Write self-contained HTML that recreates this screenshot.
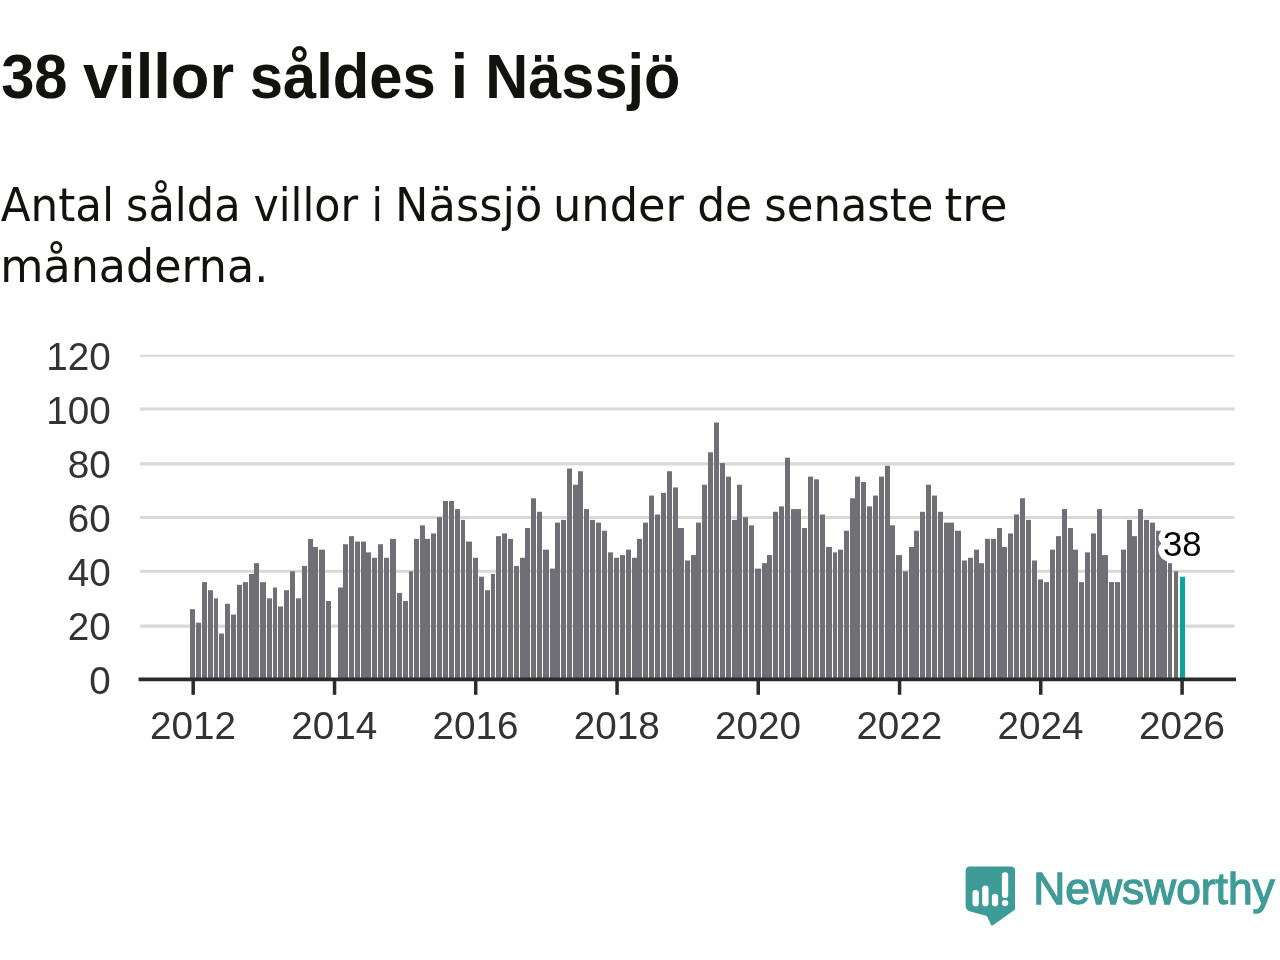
<!DOCTYPE html>
<html lang="sv"><head><meta charset="utf-8"><title>38 villor såldes i Nässjö</title>
<style>
html,body{margin:0;padding:0;background:#fff;}
body{width:1280px;height:960px;overflow:hidden;position:relative;}
main{position:absolute;left:0;top:0;width:1280px;height:960px;overflow:hidden;background:#fff;}
.blk{position:absolute;left:0;width:1280px;margin:0;padding:0;border:0;font-size:0;line-height:0;overflow:hidden;}
svg{display:block;overflow:hidden;}
.t{font-family:"Liberation Sans","DejaVu Sans",sans-serif;}
.d{font-family:"DejaVu Sans Condensed","DejaVu Sans","Liberation Sans",sans-serif;}
</style></head><body>
<main>
<h1 class="blk title" style="top:0px;height:130px">
<svg width="1280" height="130" viewBox="0 0 1280 130">
<text class="t" y="97.7" font-size="62.3" font-weight="700" fill="#12120e" xml:space="preserve"><tspan x="1.13" textLength="66.40" lengthAdjust="spacingAndGlyphs">38</tspan> <tspan x="82.95" textLength="151.14" lengthAdjust="spacingAndGlyphs">villor</tspan> <tspan x="249.77" textLength="185.94" lengthAdjust="spacingAndGlyphs">såldes</tspan> <tspan x="450.78" textLength="17.31" lengthAdjust="spacingAndGlyphs">i</tspan> <tspan x="485.24" textLength="195.12" lengthAdjust="spacingAndGlyphs">Nässjö</tspan></text>
</svg>
</h1>
<p class="blk subtitle" style="top:150px;height:160px">
<svg width="1280" height="160" viewBox="0 150 1280 160">
<text class="d" y="221.2" font-size="46" fill="#12120e" xml:space="preserve"><tspan x="0.78" textLength="113.40" lengthAdjust="spacingAndGlyphs">Antal</tspan> <tspan x="126.09" textLength="114.42" lengthAdjust="spacingAndGlyphs">sålda</tspan> <tspan x="253.45" textLength="104.65" lengthAdjust="spacingAndGlyphs">villor</tspan> <tspan x="371.45" textLength="11.50" lengthAdjust="spacingAndGlyphs">i</tspan> <tspan x="395.11" textLength="147.22" lengthAdjust="spacingAndGlyphs">Nässjö</tspan> <tspan x="552.98" textLength="130.97" lengthAdjust="spacingAndGlyphs">under</tspan> <tspan x="697.16" textLength="54.99" lengthAdjust="spacingAndGlyphs">de</tspan> <tspan x="764.34" textLength="169.00" lengthAdjust="spacingAndGlyphs">senaste</tspan> <tspan x="944.60" textLength="62.87" lengthAdjust="spacingAndGlyphs">tre</tspan></text>
<text class="d" y="281.9" font-size="46" fill="#12120e" xml:space="preserve"><tspan x="0.39" textLength="267.84" lengthAdjust="spacingAndGlyphs">månaderna.</tspan></text>
</svg>
</p>
<figure class="blk chart" style="top:320px;height:460px">
<svg width="1280" height="460" viewBox="0 320 1280 460">
<g stroke="#d9d9d9" stroke-width="3.1" fill="none">
<line x1="140.0" x2="1234.5" y1="626.15" y2="626.15"/>
<line x1="140.0" x2="1234.5" y1="571.20" y2="571.20"/>
<line x1="140.0" x2="1234.5" y1="517.50" y2="517.50"/>
<line x1="140.0" x2="1234.5" y1="463.90" y2="463.90"/>
<line x1="140.0" x2="1234.5" y1="409.05" y2="409.05"/>
<line x1="140.0" x2="1234.5" y1="355.80" y2="355.80" stroke-width="1.9"/>
</g>
<g class="t" font-size="39.4" fill="#333333" text-anchor="end">
<text x="110.8" y="694" textLength="21.50" lengthAdjust="spacingAndGlyphs">0</text>
<text x="110.8" y="640" textLength="43.00" lengthAdjust="spacingAndGlyphs">20</text>
<text x="110.8" y="586" textLength="43.00" lengthAdjust="spacingAndGlyphs">40</text>
<text x="110.8" y="532" textLength="43.00" lengthAdjust="spacingAndGlyphs">60</text>
<text x="110.8" y="478" textLength="43.00" lengthAdjust="spacingAndGlyphs">80</text>
<text x="110.8" y="424" textLength="64.50" lengthAdjust="spacingAndGlyphs">100</text>
<text x="110.8" y="370" textLength="64.50" lengthAdjust="spacingAndGlyphs">120</text>
</g>
<g fill="#706f76">
<rect x="190.00" y="609.17" width="5.00" height="70.13"/>
<rect x="196.00" y="622.70" width="5.00" height="56.60"/>
<rect x="202.00" y="582.12" width="5.00" height="97.18"/>
<rect x="208.00" y="590.24" width="5.00" height="89.06"/>
<rect x="214.00" y="598.35" width="4.00" height="80.95"/>
<rect x="219.00" y="633.51" width="5.00" height="45.78"/>
<rect x="225.00" y="603.76" width="5.00" height="75.54"/>
<rect x="231.00" y="614.58" width="5.00" height="64.72"/>
<rect x="237.00" y="584.83" width="5.00" height="94.47"/>
<rect x="243.00" y="582.12" width="5.00" height="97.18"/>
<rect x="249.00" y="574.00" width="5.00" height="105.29"/>
<rect x="254.00" y="563.18" width="5.00" height="116.12"/>
<rect x="260.00" y="582.12" width="6.00" height="97.18"/>
<rect x="267.00" y="598.35" width="5.00" height="80.95"/>
<rect x="273.00" y="587.53" width="4.00" height="91.77"/>
<rect x="278.00" y="606.47" width="5.00" height="72.83"/>
<rect x="284.00" y="590.24" width="5.00" height="89.06"/>
<rect x="290.00" y="571.30" width="5.00" height="108.00"/>
<rect x="296.00" y="598.35" width="5.00" height="80.95"/>
<rect x="302.00" y="565.89" width="5.00" height="113.41"/>
<rect x="308.00" y="538.84" width="5.00" height="140.46"/>
<rect x="313.00" y="546.95" width="5.00" height="132.35"/>
<rect x="319.00" y="549.66" width="6.00" height="129.64"/>
<rect x="326.00" y="601.05" width="5.00" height="78.25"/>
<rect x="338.00" y="587.53" width="5.00" height="91.77"/>
<rect x="343.00" y="544.25" width="5.00" height="135.05"/>
<rect x="349.00" y="536.13" width="5.00" height="143.16"/>
<rect x="355.00" y="541.54" width="5.00" height="137.75"/>
<rect x="361.00" y="541.54" width="5.00" height="137.75"/>
<rect x="366.00" y="552.37" width="5.00" height="126.93"/>
<rect x="372.00" y="557.77" width="5.00" height="121.52"/>
<rect x="378.00" y="544.25" width="5.00" height="135.05"/>
<rect x="384.00" y="557.77" width="5.00" height="121.52"/>
<rect x="390.00" y="538.84" width="6.00" height="140.46"/>
<rect x="397.00" y="592.94" width="5.00" height="86.36"/>
<rect x="403.00" y="601.05" width="5.00" height="78.25"/>
<rect x="409.00" y="571.30" width="4.00" height="108.00"/>
<rect x="414.00" y="538.84" width="5.00" height="140.46"/>
<rect x="420.00" y="525.32" width="5.00" height="153.98"/>
<rect x="425.00" y="538.84" width="5.00" height="140.46"/>
<rect x="431.00" y="533.43" width="5.00" height="145.87"/>
<rect x="437.00" y="517.20" width="5.00" height="162.10"/>
<rect x="443.00" y="500.97" width="5.00" height="178.33"/>
<rect x="449.00" y="500.97" width="5.00" height="178.33"/>
<rect x="455.00" y="509.09" width="5.00" height="170.21"/>
<rect x="461.00" y="519.90" width="4.00" height="159.39"/>
<rect x="466.00" y="541.54" width="6.00" height="137.75"/>
<rect x="473.00" y="557.77" width="5.00" height="121.52"/>
<rect x="479.00" y="576.71" width="5.00" height="102.59"/>
<rect x="485.00" y="590.24" width="5.00" height="89.06"/>
<rect x="491.00" y="574.00" width="4.00" height="105.29"/>
<rect x="496.00" y="536.13" width="5.00" height="143.16"/>
<rect x="502.00" y="533.43" width="5.00" height="145.87"/>
<rect x="508.00" y="538.84" width="5.00" height="140.46"/>
<rect x="514.00" y="565.89" width="5.00" height="113.41"/>
<rect x="520.00" y="557.77" width="5.00" height="121.52"/>
<rect x="525.00" y="528.02" width="5.00" height="151.28"/>
<rect x="531.00" y="498.26" width="5.00" height="181.03"/>
<rect x="537.00" y="511.79" width="5.00" height="167.51"/>
<rect x="543.00" y="549.66" width="6.00" height="129.64"/>
<rect x="550.00" y="568.60" width="5.00" height="110.70"/>
<rect x="555.00" y="522.61" width="5.00" height="156.69"/>
<rect x="561.00" y="519.90" width="5.00" height="159.39"/>
<rect x="567.00" y="468.51" width="5.00" height="210.79"/>
<rect x="573.00" y="484.74" width="5.00" height="194.56"/>
<rect x="578.00" y="471.22" width="5.00" height="208.08"/>
<rect x="584.00" y="509.09" width="5.00" height="170.21"/>
<rect x="590.00" y="519.90" width="5.00" height="159.39"/>
<rect x="596.00" y="522.61" width="5.00" height="156.69"/>
<rect x="602.00" y="530.73" width="5.00" height="148.57"/>
<rect x="608.00" y="552.37" width="5.00" height="126.93"/>
<rect x="614.00" y="557.77" width="5.00" height="121.52"/>
<rect x="620.00" y="555.07" width="5.00" height="124.23"/>
<rect x="626.00" y="549.66" width="5.00" height="129.64"/>
<rect x="632.00" y="557.77" width="5.00" height="121.52"/>
<rect x="637.00" y="538.84" width="5.00" height="140.46"/>
<rect x="643.00" y="522.61" width="5.00" height="156.69"/>
<rect x="649.00" y="495.56" width="5.00" height="183.74"/>
<rect x="655.00" y="514.50" width="5.00" height="164.80"/>
<rect x="661.00" y="492.86" width="5.00" height="186.44"/>
<rect x="667.00" y="471.22" width="5.00" height="208.08"/>
<rect x="673.00" y="487.44" width="5.00" height="191.85"/>
<rect x="678.00" y="528.02" width="6.00" height="151.28"/>
<rect x="685.00" y="560.48" width="5.00" height="118.82"/>
<rect x="691.00" y="555.07" width="5.00" height="124.23"/>
<rect x="696.00" y="522.61" width="5.00" height="156.69"/>
<rect x="702.00" y="484.74" width="5.00" height="194.56"/>
<rect x="708.00" y="452.28" width="5.00" height="227.02"/>
<rect x="714.00" y="422.52" width="5.00" height="256.77"/>
<rect x="720.00" y="463.10" width="5.00" height="216.20"/>
<rect x="726.00" y="476.62" width="5.00" height="202.67"/>
<rect x="732.00" y="519.90" width="5.00" height="159.39"/>
<rect x="737.00" y="484.74" width="5.00" height="194.56"/>
<rect x="743.00" y="517.20" width="5.00" height="162.10"/>
<rect x="749.00" y="525.32" width="5.00" height="153.98"/>
<rect x="755.00" y="568.60" width="6.00" height="110.70"/>
<rect x="762.00" y="563.18" width="5.00" height="116.12"/>
<rect x="767.00" y="555.07" width="5.00" height="124.23"/>
<rect x="773.00" y="511.79" width="5.00" height="167.51"/>
<rect x="779.00" y="506.38" width="5.00" height="172.92"/>
<rect x="785.00" y="457.69" width="5.00" height="221.61"/>
<rect x="791.00" y="509.09" width="5.00" height="170.21"/>
<rect x="796.00" y="509.09" width="5.00" height="170.21"/>
<rect x="802.00" y="528.02" width="5.00" height="151.28"/>
<rect x="808.00" y="476.62" width="5.00" height="202.67"/>
<rect x="814.00" y="479.33" width="5.00" height="199.97"/>
<rect x="820.00" y="514.50" width="5.00" height="164.80"/>
<rect x="826.00" y="546.95" width="6.00" height="132.35"/>
<rect x="833.00" y="552.37" width="4.00" height="126.93"/>
<rect x="838.00" y="549.66" width="5.00" height="129.64"/>
<rect x="844.00" y="530.73" width="5.00" height="148.57"/>
<rect x="850.00" y="498.26" width="5.00" height="181.03"/>
<rect x="855.00" y="476.62" width="5.00" height="202.67"/>
<rect x="861.00" y="482.03" width="5.00" height="197.26"/>
<rect x="867.00" y="506.38" width="5.00" height="172.92"/>
<rect x="873.00" y="495.56" width="5.00" height="183.74"/>
<rect x="879.00" y="476.62" width="5.00" height="202.67"/>
<rect x="885.00" y="465.81" width="5.00" height="213.49"/>
<rect x="890.00" y="525.32" width="5.00" height="153.98"/>
<rect x="896.00" y="555.07" width="6.00" height="124.23"/>
<rect x="903.00" y="571.30" width="5.00" height="108.00"/>
<rect x="909.00" y="546.95" width="5.00" height="132.35"/>
<rect x="914.00" y="530.73" width="5.00" height="148.57"/>
<rect x="920.00" y="511.79" width="5.00" height="167.51"/>
<rect x="926.00" y="484.74" width="5.00" height="194.56"/>
<rect x="932.00" y="495.56" width="5.00" height="183.74"/>
<rect x="938.00" y="511.79" width="5.00" height="167.51"/>
<rect x="944.00" y="522.61" width="5.00" height="156.69"/>
<rect x="949.00" y="522.61" width="5.00" height="156.69"/>
<rect x="955.00" y="530.73" width="6.00" height="148.57"/>
<rect x="962.00" y="560.48" width="5.00" height="118.82"/>
<rect x="968.00" y="557.77" width="5.00" height="121.52"/>
<rect x="974.00" y="549.66" width="5.00" height="129.64"/>
<rect x="979.00" y="563.18" width="5.00" height="116.12"/>
<rect x="985.00" y="538.84" width="5.00" height="140.46"/>
<rect x="991.00" y="538.84" width="5.00" height="140.46"/>
<rect x="997.00" y="528.02" width="5.00" height="151.28"/>
<rect x="1002.00" y="546.95" width="5.00" height="132.35"/>
<rect x="1008.00" y="533.43" width="5.00" height="145.87"/>
<rect x="1014.00" y="514.50" width="5.00" height="164.80"/>
<rect x="1020.00" y="498.26" width="5.00" height="181.03"/>
<rect x="1026.00" y="519.90" width="5.00" height="159.39"/>
<rect x="1032.00" y="560.48" width="5.00" height="118.82"/>
<rect x="1038.00" y="579.41" width="5.00" height="99.88"/>
<rect x="1044.00" y="582.12" width="5.00" height="97.18"/>
<rect x="1050.00" y="549.66" width="5.00" height="129.64"/>
<rect x="1056.00" y="536.13" width="5.00" height="143.16"/>
<rect x="1062.00" y="509.09" width="5.00" height="170.21"/>
<rect x="1068.00" y="528.02" width="5.00" height="151.28"/>
<rect x="1073.00" y="549.66" width="5.00" height="129.64"/>
<rect x="1079.00" y="582.12" width="5.00" height="97.18"/>
<rect x="1085.00" y="552.37" width="5.00" height="126.93"/>
<rect x="1091.00" y="533.43" width="5.00" height="145.87"/>
<rect x="1097.00" y="509.09" width="5.00" height="170.21"/>
<rect x="1102.00" y="555.07" width="6.00" height="124.23"/>
<rect x="1109.00" y="582.12" width="5.00" height="97.18"/>
<rect x="1115.00" y="582.12" width="5.00" height="97.18"/>
<rect x="1121.00" y="549.66" width="5.00" height="129.64"/>
<rect x="1127.00" y="519.90" width="5.00" height="159.39"/>
<rect x="1132.00" y="536.13" width="5.00" height="143.16"/>
<rect x="1138.00" y="509.09" width="5.00" height="170.21"/>
<rect x="1144.00" y="519.90" width="5.00" height="159.39"/>
<rect x="1150.00" y="522.61" width="5.00" height="156.69"/>
<rect x="1156.00" y="530.73" width="5.00" height="148.57"/>
<rect x="1161.00" y="552.37" width="6.00" height="126.93"/>
<rect x="1168.00" y="563.18" width="4.00" height="116.12"/>
<rect x="1174.00" y="571.30" width="4.00" height="108.00"/>
<rect x="1180.00" y="576.71" width="5.00" height="102.59" fill="#08a696"/>
</g>
<g stroke="#2b2b2b" stroke-width="3.75" fill="none">
<line x1="138.6" x2="1236.0" y1="679.3" y2="679.3"/>
<line x1="193.20" x2="193.20" y1="679.3" y2="694.8" stroke-width="3.5"/>
<line x1="334.55" x2="334.55" y1="679.3" y2="694.8" stroke-width="3.5"/>
<line x1="475.72" x2="475.72" y1="679.3" y2="694.8" stroke-width="3.5"/>
<line x1="617.07" x2="617.07" y1="679.3" y2="694.8" stroke-width="3.5"/>
<line x1="758.23" x2="758.23" y1="679.3" y2="694.8" stroke-width="3.5"/>
<line x1="899.58" x2="899.58" y1="679.3" y2="694.8" stroke-width="3.5"/>
<line x1="1040.75" x2="1040.75" y1="679.3" y2="694.8" stroke-width="3.5"/>
<line x1="1182.10" x2="1182.10" y1="679.3" y2="694.8" stroke-width="3.5"/>
</g>
<g class="t" font-size="39.4" fill="#333333" text-anchor="middle">
<text x="193.00" y="739.0" textLength="86.00" lengthAdjust="spacingAndGlyphs">2012</text>
<text x="334.35" y="739.0" textLength="86.00" lengthAdjust="spacingAndGlyphs">2014</text>
<text x="475.52" y="739.0" textLength="86.00" lengthAdjust="spacingAndGlyphs">2016</text>
<text x="616.87" y="739.0" textLength="86.00" lengthAdjust="spacingAndGlyphs">2018</text>
<text x="758.03" y="739.0" textLength="86.00" lengthAdjust="spacingAndGlyphs">2020</text>
<text x="899.38" y="739.0" textLength="86.00" lengthAdjust="spacingAndGlyphs">2022</text>
<text x="1040.55" y="739.0" textLength="86.00" lengthAdjust="spacingAndGlyphs">2024</text>
<text x="1181.90" y="739.0" textLength="86.00" lengthAdjust="spacingAndGlyphs">2026</text>
</g>
<text class="t" x="1182.2" y="556.0" font-size="35.5" text-anchor="middle" fill="#000000" stroke="#ffffff" stroke-width="12.5" stroke-linejoin="round" paint-order="stroke" textLength="38.60" lengthAdjust="spacingAndGlyphs">38</text>
</svg>
</figure>
<footer class="blk brand" style="top:840px;height:120px">
<svg width="1280" height="120" viewBox="0 840 1280 120">
<g fill="#3f9b97">
<path d="M970.1 866.6 H1010.8 Q1015 866.6 1015 870.8 V909.6 L993.4 925 Q991.6 926.2 990.7 924.2 L986.9 916 L970.2 911.6 Q965.6 910.3 965.6 905.6 V871.1 Q965.6 866.6 970.1 866.6 Z"/>
</g>
<g fill="#ffffff">
<rect x="972.5" y="890" width="6.3" height="16.3" rx="3.1"/>
<rect x="982.2" y="885.6" width="6.3" height="20.7" rx="3.1"/>
<rect x="991.9" y="893.7" width="6.3" height="12.6" rx="3.1"/>
<rect x="1001.9" y="872.2" width="6.3" height="25.8" rx="3.1"/>
<circle cx="1005.05" cy="903.1" r="3.15"/>
</g>

<text class="t" x="1033.2" y="903.6" font-size="44.0" fill="#3f9b97" stroke="#3f9b97" stroke-width="1.3" textLength="241.6" lengthAdjust="spacingAndGlyphs">Newsworthy</text>
</svg>
</footer>
</main>
</body></html>
